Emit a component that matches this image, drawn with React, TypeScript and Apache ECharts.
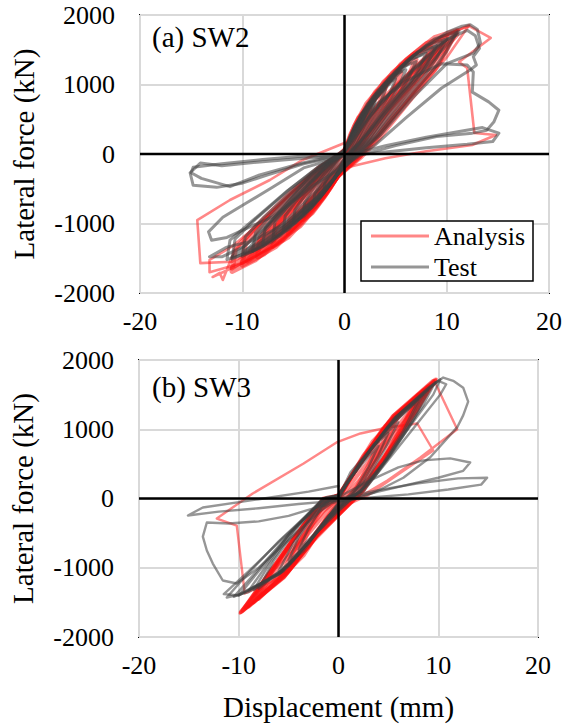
import React, { useEffect, useRef } from "react";
import * as echarts from "echarts";

// ---------- Axis settings ----------
const xTicks = [-20, -10, 0, 10, 20];
const yTicks = [-2000, -1000, 0, 1000, 2000];
const legendNames = ["Analysis", "Test"];
const panelLabels = ["(a) SW2", "(b) SW3"];

// ---------- (a) SW2 : Test cycles [displacement mm, force kN] ----------
const sw2TestA = [[0,40],[0.5,235],[1.1,425],[1.6,505],[2,560],[1.8,465],[1.6,392],[1.1,241],[0.6,84],[0.24,0],[-0.1,-94],[-0.5,-218],[-1,-338],[-1.6,-468],[-2,-520],[-1.94,-421],[-1.6,-322],[-1,-177],[-0.46,-62],[0,40]];
const sw2TestB = [[0,40],[0.75,319],[1.65,578],[2.4,714],[3,760],[2.7,631],[2.4,532],[1.65,327],[0.9,114],[0.36,0],[-0.15,-126],[-0.75,-294],[-1.5,-455],[-2.4,-630],[-3,-700],[-2.9,-567],[-2.4,-434],[-1.5,-238],[-0.7,-84],[0,40]];
const sw2TestC = [[0,40],[1,391],[2.2,707],[3.2,874],[4,930],[3.6,772],[3.2,651],[2.2,400],[1.2,140],[0.48,0],[-0.2,-155],[-1,-361],[-2,-559],[-3.2,-774],[-4,-860],[-3.9,-697],[-3.2,-533],[-2,-292],[-0.9,-103],[0,40]];
const sw2TestD = [[0,40],[1.25,454],[2.75,821],[4,1015],[5,1080],[4.5,896],[4,756],[2.75,464],[1.5,162],[0.6,0],[-0.25,-178],[-1.25,-416],[-2.45,-644],[-3.95,-891],[-5,-990],[-4.85,-802],[-3.95,-614],[-2.45,-337],[-1.15,-119],[0,40]];
const sw2TestE = [[0,40],[1.5,508],[3.3,920],[4.8,1137],[6,1210],[5.4,1004],[4.8,847],[3.3,520],[1.8,182],[0.72,0],[-0.3,-198],[-1.5,-462],[-2.95,-715],[-4.75,-990],[-6,-1100],[-5.8,-891],[-4.75,-682],[-2.95,-374],[-1.4,-132],[0,40]];
const sw2TestF = [[0,40],[1.75,559],[3.85,1011],[5.6,1250],[7,1330],[6.3,1104],[5.6,931],[3.85,572],[2.1,200],[0.84,0],[-0.35,-218],[-1.75,-508],[-3.45,-787],[-5.5,-1089],[-7,-1210],[-6.8,-980],[-5.5,-750],[-3.45,-411],[-1.6,-145],[0,40]];
const sw2TestL = [[0,40],[2,609],[4.4,1102],[6.4,1363],[8,1450],[7.2,1204],[6.4,1015],[4.4,624],[2.4,218],[0.96,0],[-0.4,-236],[-2,-550],[-3.9,-852],[-6.3,-1179],[-8,-1310],[-7.75,-1061],[-6.3,-812],[-3.9,-445],[-1.85,-157],[0,40]];
const sw2TestM = [[0,40],[2.25,655],[4.95,1186],[7.2,1466],[9,1560],[8.1,1295],[7.2,1092],[4.95,671],[2.7,234],[1.08,0],[-0.45,-252],[-2.25,-588],[-4.4,-910],[-7.1,-1260],[-9,-1400],[-8.7,-1134],[-7.1,-868],[-4.4,-476],[-2.05,-168],[0,40]];
const sw2TestN = [[0,40],[2.5,697],[5.5,1262],[8,1560],[10,1660],[9,1378],[8,1162],[5.5,714],[3,249],[1.2,0],[-0.5,-265],[-2.5,-617],[-4.9,-956],[-7.9,-1323],[-10,-1470],[-9.7,-1191],[-7.9,-911],[-4.9,-500],[-2.3,-176],[0,40]];
const sw2TestO = [[0,40],[2.75,739],[6.05,1338],[8.8,1654],[11,1760],[9.9,1461],[8.8,1232],[6.05,757],[3.3,264],[1.32,0],[-0.55,-272],[-2.75,-634],[-5.4,-982],[-8.7,-1359],[-11,-1510],[-10.7,-1223],[-8.7,-936],[-5.4,-513],[-2.5,-181],[0,40]];
const sw2TestP = [[0,30],[3,640],[6,1120],[9,1530],[11.2,1770],[8.5,1320],[5.5,850],[2.5,330],[0,-60],[-2.5,-500],[-5.5,-930],[-8.5,-1290],[-11,-1480],[-8,-1100],[-5,-650],[-2,-220],[0,30]];
const sw2TestQ = [[0,20],[2.2,500],[4.5,880],[7,1240],[9.6,1600],[7,1130],[4.2,680],[1.8,220],[-0.5,-180],[-2.8,-600],[-5.2,-960],[-7.8,-1250],[-9.8,-1420],[-7,-980],[-4.2,-560],[-1.5,-130],[0,20]];
const sw2TestG = [[0,70],[3,800],[6.6,1400],[10,1750],[11.5,1840],[12.3,1860],[13,1790],[13.3,1600],[12.6,1450],[10,1300],[6.6,800],[3.5,270],[1.3,-20],[-0.6,-280],[-2.8,-660],[-6.3,-1150],[-9,-1400],[-11.5,-1520],[-11.2,-1240],[-9,-960],[-5.6,-530],[-2.6,-190],[0,60]];
const sw2TestH = [[0,60],[3,780],[6.5,1350],[10.2,1660],[12,1780],[12.8,1700],[13.2,1520],[12.6,1400],[12.9,1280],[12.2,1200],[9.5,950],[6,520],[3,130],[0.5,-90],[-2.8,-640],[-6,-1020],[-9,-1250],[-11.5,-1340],[-13.2,-1480],[-12,-1480],[-9.8,-1330],[-6.5,-860],[-3.3,-300],[0,60]];
const sw2TestI = [[0,60],[3,700],[6,1050],[9.5,1300],[12,1280],[12.6,1180],[12.5,890],[14.1,750],[15.1,630],[14.6,460],[13.9,340],[12.5,300],[9,250],[5,120],[1.5,-20],[-3,-450],[-7,-900],[-11.5,-1200],[-13,-1240],[-13.3,-1120],[-11.9,-910],[-9.6,-705],[-7,-475],[-4,-200],[0,-30]];
const sw2TestJ = [[0,-30],[4,120],[8,240],[11.5,330],[13.5,380],[15.1,300],[14.5,180],[12,140],[8,90],[4,30],[0,-30],[-4,-60],[-8,-110],[-12,-170],[-14.1,-130],[-15.1,-270],[-14.8,-450],[-12.5,-480],[-10,-420],[-7.5,-300],[-4,-140],[0,-20]];
const sw2TestK = [[0,-20],[-4,-30],[-8,-80],[-12,-140],[-14.8,-190],[-15,-270],[-14,-350],[-11.2,-470],[-8.3,-300],[-4.1,-130],[0,0]];

// ---------- (a) SW2 : Analysis cycles ----------
const sw2AnaA = [[0,30],[0.63,286],[1.38,517],[2,612],[2.5,680],[2.25,564],[2,462],[1.38,272],[0.75,82],[0.38,-14],[-0.13,-117],[-0.63,-273],[-1.23,-423],[-1.98,-585],[-2.5,-650],[-2.43,-527],[-1.98,-403],[-1.23,-221],[-0.58,-78],[0,30]];
const sw2AnaB = [[0,30],[1,403],[2.2,730],[3.2,902],[4,960],[3.6,797],[3.2,653],[2.2,384],[1.2,115],[0.6,-19],[-0.2,-169],[-1,-395],[-1.96,-611],[-3.16,-846],[-4,-940],[-3.88,-761],[-3.16,-583],[-1.96,-320],[-0.92,-113],[0,30]];
const sw2AnaC = [[0,30],[1.38,491],[3.03,889],[4.4,1100],[5.5,1170],[4.95,971],[4.4,796],[3.03,468],[1.65,140],[0.83,-23],[-0.28,-207],[-1.38,-483],[-2.7,-748],[-4.35,-1035],[-5.5,-1150],[-5.34,-932],[-4.35,-713],[-2.7,-391],[-1.27,-138],[0,30]];
const sw2AnaD = [[0,30],[1.75,571],[3.85,1034],[5.6,1278],[7,1360],[6.3,1129],[5.6,925],[3.85,544],[2.1,163],[1.05,-27],[-0.35,-239],[-1.75,-559],[-3.43,-865],[-5.53,-1197],[-7,-1330],[-6.79,-1077],[-5.53,-825],[-3.43,-452],[-1.61,-160],[0,30]];
const sw2AnaH = [[0,30],[2.13,643],[4.68,1163],[6.8,1438],[8.5,1530],[7.65,1270],[6.8,1040],[4.68,612],[2.55,184],[1.28,-31],[-0.43,-266],[-2.13,-622],[-4.17,-962],[-6.72,-1332],[-8.5,-1480],[-8.25,-1199],[-6.72,-918],[-4.17,-503],[-1.96,-178],[0,30]];
const sw2AnaI = [[0,30],[2.5,710],[5.5,1284],[8,1589],[10,1690],[9,1403],[8,1149],[5.5,676],[3,203],[1.5,-34],[-0.5,-288],[-2.5,-672],[-4.9,-1040],[-7.9,-1440],[-10,-1600],[-9.7,-1296],[-7.9,-992],[-4.9,-544],[-2.3,-192],[0,30]];
const sw2AnaJ = [[0,30],[2.75,748],[6.05,1353],[8.8,1673],[11,1780],[9.9,1477],[8.8,1210],[6.05,712],[3.3,214],[1.65,-36],[-0.55,-304],[-2.75,-710],[-5.39,-1099],[-8.69,-1521],[-11,-1690],[-10.67,-1369],[-8.69,-1048],[-5.39,-575],[-2.53,-203],[0,30]];
const sw2AnaP = [[0,0],[3,580],[6,1050],[9,1480],[11,1720],[8,1230],[5,760],[2,250],[0,-100],[-3,-620],[-6,-1060],[-9,-1440],[-11,-1640],[-8,-1230],[-5,-770],[-2,-260],[0,60]];
const sw2AnaQ = [[0,20],[2.5,560],[5,950],[7.5,1310],[10,1620],[7,1060],[4,570],[1.5,120],[-1,-280],[-3.5,-700],[-6,-1090],[-8.5,-1420],[-10,-1560],[-7,-1000],[-4,-540],[-1.5,-120],[0,30]];
const sw2AnaR = [[0,10],[2,480],[4.5,900],[7,1250],[9.5,1600],[6.8,1120],[4,650],[1.8,230],[-0.5,-200],[-2.5,-560],[-5,-960],[-7.5,-1320],[-9.5,-1540],[-6.5,-1030],[-3.5,-520],[-1,-90],[0,20]];
const sw2AnaE = [[0,50],[2.8,770],[6.2,1360],[11,1780],[9.4,1330],[6.6,860],[3.4,290],[1.4,-40],[-0.6,-320],[-2.9,-740],[-6,-1250],[-10,-1570],[-13.2,-1700],[-13.2,-1525],[-11,-1330],[-8.8,-1060],[-5.4,-590],[-2.5,-200],[0,60]];
const sw2AnaF = [[0,60],[2.9,790],[6.4,1390],[9.6,1690],[12.2,1856],[10,1390],[6.6,830],[3.5,300],[1.6,-40],[-0.6,-330],[-2.8,-760],[-6.5,-1300],[-10,-1570],[-12.9,-1770],[-12.2,-1712],[-11.9,-1813],[-10.8,-1400],[-8.5,-1040],[-5.2,-560],[-2.4,-180],[0,60]];
const sw2AnaG = [[0,60],[2.9,790],[6.4,1390],[9.6,1700],[12.2,1840],[14.3,1670],[11.2,1324],[12,1237],[12.7,302],[14.8,273],[12.5,130],[8,40],[4,-60],[0,-200],[-3,-700],[-7,-1250],[-11,-1550],[-14.1,-1570],[-14.4,-950],[-11.2,-662],[-7.3,-374],[-4.1,-86],[0,158],[0.5,173]];

// ---------- (b) SW3 : Test cycles ----------
const sw3TestA = [[0,0],[1,250],[2.5,520],[4,760],[3,450],[1.8,150],[0.5,-40],[-1,-250],[-2.5,-520],[-4,-740],[-3,-430],[-1.7,-130],[0,0]];
const sw3TestH = [[0,20],[1.2,380],[3,680],[5,950],[4,620],[2.5,250],[0.8,-30],[-1.2,-300],[-3,-650],[-5,-900],[-4,-560],[-2.3,-200],[-0.5,20],[0,30]];
const sw3TestB = [[0,0],[1.4,330],[3.5,780],[6,1100],[4.6,700],[3,300],[1,-20],[-1.4,-330],[-3.5,-760],[-6,-1050],[-4.6,-660],[-2.8,-260],[-0.8,20],[0,40]];
const sw3TestC = [[0,40],[1.8,420],[4.5,950],[8,1420],[6.5,980],[4.5,520],[2,80],[-1.8,-400],[-4.5,-900],[-8,-1300],[-6.5,-900],[-4,-400],[-1.2,20],[0,50]];
const sw3TestK = [[0,35],[1.9,450],[4.8,1000],[8.5,1500],[7,1060],[4.9,580],[2.3,100],[0.1,-50],[-1.9,-430],[-4.8,-940],[-8.5,-1320],[-6.9,-940],[-4.4,-440],[-1.4,10],[0,45]];
const sw3TestI = [[0,45],[2,470],[5,1050],[9,1560],[7.5,1130],[5.2,620],[2.6,120],[0.2,-50],[-2,-450],[-5,-980],[-9,-1330],[-7.3,-980],[-4.8,-480],[-1.6,0],[0,40]];
const sw3TestL = [[0,50],[2.3,530],[5.7,1170],[9.7,1680],[8.5,1350],[6.3,880],[3.8,350],[1.2,-20],[-2.3,-510],[-5.7,-1060],[-10,-1400],[-8,-1050],[-4.8,-500],[-1.7,-30],[0,40]];
const sw3TestJ = [[0,40],[2.4,540],[5.8,1180],[10.2,1720],[9.5,1500],[7.2,1050],[4.8,560],[2.2,100],[0,-60],[-2.4,-530],[-5.8,-1080],[-10.5,-1420],[-8.5,-1100],[-5,-520],[-1.8,-50],[0,30]];
const sw3TestD = [[0,50],[2.2,520],[5.5,1150],[9,1600],[10.5,1747],[11.5,1700],[12.5,1600],[13,1400],[12.5,1200],[11.9,1030],[9.2,596],[6.5,300],[3.5,80],[0.5,-60],[-2.2,-500],[-5.5,-1050],[-9,-1350],[-11.2,-1430],[-9.5,-1150],[-6,-620],[-2.5,-150],[0,30]];
const sw3TestE = [[0,30],[2.5,560],[6,1200],[10,1700],[10.8,1650],[10.2,1500],[8,1100],[5.5,650],[3,200],[0.5,-60],[-2.5,-550],[-6,-1100],[-10,-1400],[-11.5,-1380],[-9,-1050],[-5.5,-560],[-2,-100],[0,20]];
const sw3TestF = [[0,20],[3,250],[6,450],[8.5,550],[11.2,580],[13.2,520],[12.5,400],[10,300],[7,200],[4,100],[1,0],[-2,-120],[-5,-250],[-8,-330],[-11,-360],[-13.2,-346],[-13.6,-550],[-13.2,-751],[-12.6,-939],[-11.6,-1184],[-10.2,-1227],[-8,-1000],[-5,-600],[-2,-200],[0,0]];
const sw3TestG = [[0,0],[4,120],[8,220],[12,290],[14.9,300],[14.3,200],[11,130],[7,60],[3,10],[0,-30],[-4,-80],[-8,-140],[-12,-190],[-15.1,-245],[-13.6,-130],[-8,-10],[-3,100],[0,180]];

// ---------- (b) SW3 : Analysis cycles ----------
const sw3AnaA = [[0,0],[1,250],[2.5,560],[4,800],[3,480],[1.8,160],[0.5,-50],[-1,-260],[-2.5,-560],[-4,-800],[-3,-470],[-1.7,-140],[0,0]];
const sw3AnaF = [[0,20],[1.2,300],[3,700],[5,1000],[3.9,640],[2.4,250],[0.7,-40],[-1.2,-320],[-3,-700],[-5,-1000],[-3.8,-620],[-2.2,-230],[-0.5,10],[0,20]];
const sw3AnaB = [[0,0],[1.4,350],[3.4,820],[6,1200],[4.8,820],[3,350],[1,-30],[-1.5,-380],[-3.5,-820],[-6,-1180],[-4.6,-780],[-2.8,-320],[-0.7,10],[0,30]];
const sw3AnaC = [[0,30],[1.8,430],[4.4,1000],[8,1500],[6.6,1100],[4.4,560],[1.8,40],[-2,-450],[-4.8,-1000],[-8,-1450],[-6.6,-1050],[-4.2,-520],[-1.5,0],[0,40]];
const sw3AnaI = [[0,30],[1.9,450],[4.7,1050],[8.5,1560],[6.9,1150],[4.7,620],[2,60],[-2,-480],[-5,-1040],[-8.5,-1500],[-6.9,-1100],[-4.4,-560],[-1.6,-30],[0,40]];
const sw3AnaG = [[0,35],[2,470],[5,1100],[9,1620],[7.3,1200],[5,680],[2.2,80],[-2.1,-500],[-5.1,-1070],[-9,-1560],[-7.3,-1160],[-4.6,-600],[-1.7,-50],[0,45]];
const sw3AnaH = [[0,45],[2.2,510],[5.4,1180],[9.5,1700],[7.8,1270],[5.3,740],[2.4,100],[-2.2,-540],[-5.4,-1120],[-9.6,-1620],[-7.7,-1230],[-4.9,-660],[-1.9,-80],[0,50]];
const sw3AnaJ = [[0,48],[2.25,520],[5.5,1190],[9.7,1715],[7.9,1285],[5.4,760],[2.45,110],[-2.25,-550],[-5.45,-1135],[-9.75,-1640],[-7.85,-1255],[-4.95,-680],[-1.95,-90],[0,50]];
const sw3AnaK = [[0,20],[2.5,620],[5,1050],[7.5,1420],[9.7,1700],[7,1230],[4.5,800],[2,350],[0,-20],[-2.5,-560],[-5,-980],[-7.5,-1350],[-9.8,-1640],[-7,-1150],[-4.5,-760],[-2,-330],[0,20]];
const sw3AnaL = [[0,0],[2,480],[4.2,880],[6.5,1250],[9,1600],[6.8,1150],[4.5,720],[2.2,280],[-0.5,-150],[-2.8,-600],[-5,-970],[-7.2,-1280],[-9.3,-1580],[-6.5,-1020],[-4,-620],[-1.5,-180],[0,0]];
const sw3AnaD = [[0,40],[2.2,520],[5.5,1200],[9.84,1728],[8,1300],[5.5,780],[2.5,120],[-2.3,-560],[-5.5,-1150],[-9.9,-1660],[-8,-1280],[-5,-700],[-2,-100],[0,50]];
const sw3AnaE = [[0,50],[2.3,540],[5.6,1200],[9.6,1700],[10.2,1516],[11.9,1000],[8.2,592],[4.9,260],[1.5,-29],[0,-250],[-3,-700],[-6,-1150],[-9.4,-1372],[-9.7,-1000],[-10.2,-390],[-12.2,-289],[-8.6,72],[-3.5,505],[-0.2,809],[2.2,939],[4.9,1025],[7.9,1083],[9.5,693],[6,350],[3,50],[0,-150]];

// band cycles (dense core) and outer cycles, per panel
const sw2AnalysisBand = [sw2AnaA, sw2AnaB, sw2AnaC, sw2AnaD, sw2AnaH, sw2AnaI, sw2AnaJ, sw2AnaP, sw2AnaQ, sw2AnaR];
const sw2AnalysisOuter = [sw2AnaE, sw2AnaF, sw2AnaG];
const sw2Test = [sw2TestA, sw2TestB, sw2TestC, sw2TestD, sw2TestE, sw2TestF, sw2TestL, sw2TestM, sw2TestN, sw2TestO, sw2TestP, sw2TestQ, sw2TestG, sw2TestH, sw2TestI, sw2TestJ, sw2TestK];
const sw3AnalysisBand = [sw3AnaA, sw3AnaF, sw3AnaB, sw3AnaC, sw3AnaI, sw3AnaG, sw3AnaH, sw3AnaJ, sw3AnaK, sw3AnaL];
const sw3AnalysisOuter = [sw3AnaD, sw3AnaE];
const sw3Test = [sw3TestA, sw3TestH, sw3TestB, sw3TestC, sw3TestK, sw3TestI, sw3TestL, sw3TestJ, sw3TestD, sw3TestE, sw3TestF, sw3TestG];

const zeroH = [[xTicks[0], 0], [xTicks[xTicks.length - 1], 0]];
const zeroV = [[0, yTicks[0]], [0, yTicks[yTicks.length - 1]]];

const FONT = "Liberation Serif";
const RED = "#ff0f0f";
const GRAY = "#404040";

export default function App() {
  const ref = useRef<HTMLDivElement>(null);
  useEffect(() => {
    if (!ref.current) return;
    const chart = echarts.init(ref.current, undefined, { renderer: "svg" });

    const grids = [
      { left: 140, top: 15, width: 410, height: 278 },
      { left: 139, top: 360, width: 399, height: 277 },
    ].map((g) => ({ ...g, show: true, borderColor: "#000", borderWidth: 2, backgroundColor: "transparent" }));

    const tickLabel = (margin: number) => ({
      margin,
      color: "#000",
      fontFamily: FONT,
      fontSize: 26,
      formatter: (v: number) => String(v),
    });

    const xAxes = [0, 1].map((i) => ({
      type: "value",
      gridIndex: i,
      min: xTicks[0],
      max: xTicks[xTicks.length - 1],
      interval: 10,
      axisLine: { show: false },
      axisTick: { show: false },
      splitLine: { show: true, lineStyle: { color: "#d9d9d9", width: 2 } },
      axisLabel: tickLabel(15),
      name: i === 1 ? "Displacement (mm)" : "",
      nameLocation: "middle",
      nameGap: 55,
      nameTextStyle: { fontSize: 29, color: "#000", fontFamily: FONT },
    }));
    const yAxes = [0, 1].map((i) => ({
      type: "value",
      gridIndex: i,
      min: yTicks[0],
      max: yTicks[yTicks.length - 1],
      interval: 1000,
      axisLine: { show: false },
      axisTick: { show: false },
      splitLine: { show: true, lineStyle: { color: "#d9d9d9", width: 2 } },
      axisLabel: tickLabel(25),
      name: "Lateral force (kN)",
      nameLocation: "middle",
      nameRotate: 90,
      nameGap: 102,
      nameTextStyle: { fontSize: 29, color: "#000", fontFamily: FONT },
    }));

    const mk = (name: string, data: number[][], idx: number, color: string, width: number, opacity: number) => ({
      type: "line",
      name,
      xAxisIndex: idx,
      yAxisIndex: idx,
      data,
      symbol: "none",
      showSymbol: false,
      silent: true,
      lineStyle: { color, width, opacity, join: "round", cap: "round" },
      itemStyle: { color, opacity },
      z: 2,
    });

    const series: any[] = [];
    sw2AnalysisOuter.forEach((c) => series.push(mk("Analysis", c, 0, RED, 2.6, 0.5)));
    sw2AnalysisBand.forEach((c) => series.push(mk("Analysis", c, 0, RED, 5, 0.5)));
    sw2Test.forEach((c) => series.push(mk("Test", c, 0, GRAY, 3, 0.55)));
    sw3AnalysisOuter.forEach((c) => series.push(mk("Analysis", c, 1, RED, 2.4, 0.5)));
    sw3AnalysisBand.forEach((c) => series.push(mk("Analysis", c, 1, RED, 4, 0.5)));
    sw3Test.forEach((c) => series.push(mk("Test", c, 1, GRAY, 2.4, 0.55)));
    [0, 1].forEach((i) => {
      [zeroH, zeroV].forEach((d) =>
        series.push({
          type: "line",
          name: "zero",
          xAxisIndex: i,
          yAxisIndex: i,
          data: d,
          symbol: "none",
          silent: true,
          lineStyle: { color: "#000", width: 2.5 },
          z: 5,
        })
      );
    });

    chart.setOption({
      animation: false,
      backgroundColor: "#fff",
      textStyle: { fontFamily: FONT },
      grid: grids,
      xAxis: xAxes,
      yAxis: yAxes,
      legend: {
        data: legendNames,
        orient: "vertical",
        left: 361,
        top: 221,
        borderColor: "#000",
        borderWidth: 1.5,
        backgroundColor: "#fff",
        padding: [2, 8, 1, 10],
        icon: "rect",
        itemWidth: 58,
        itemHeight: 3,
        itemGap: 5,
        selectedMode: false,
        textStyle: { fontSize: 26, color: "#000", fontFamily: FONT },
        z: 10,
      },
      graphic: [
        { type: "text", left: 152, top: 22, style: { text: panelLabels[0], fontSize: 29, fontFamily: FONT, fill: "#000" }, z: 10 },
        { type: "text", left: 152, top: 372, style: { text: panelLabels[1], fontSize: 29, fontFamily: FONT, fill: "#000" }, z: 10 },
      ],
      series,
    });
    return () => chart.dispose();
  }, []);
  return <div ref={ref} style={{ position: "fixed", left: 0, top: 0, width: 565, height: 724 }} />;
}
